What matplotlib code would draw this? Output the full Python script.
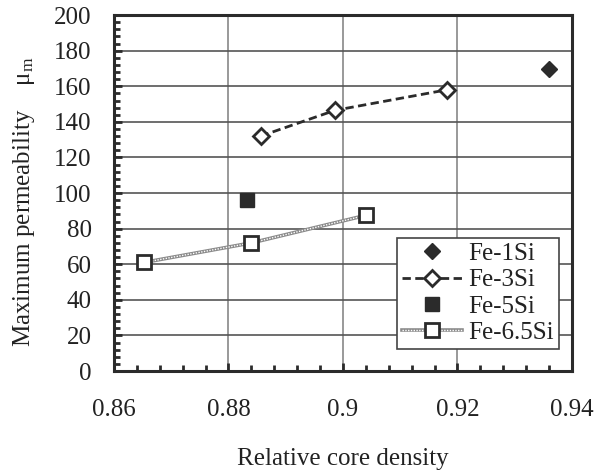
import matplotlib
matplotlib.use("Agg")
import matplotlib.pyplot as plt
from matplotlib.ticker import MultipleLocator
from matplotlib.legend_handler import HandlerTuple

plt.rcParams['font.family'] = 'Liberation Serif'
plt.rcParams['mathtext.fontset'] = 'custom'
plt.rcParams['mathtext.rm'] = 'Liberation Serif'
plt.rcParams['mathtext.it'] = 'Liberation Serif:italic'

# data
fe1_x = [0.936]
fe1_y = [170]
fe3_x = [0.8856, 0.8986, 0.9181]
fe3_y = [132, 146.5, 158]
fe5_x = [0.8833]
fe5_y = [96]
fe65_x = [0.8652, 0.8840, 0.9040]
fe65_y = [61, 72, 87.5]

dark = '#2b2b2b'
fs = 18

fig = plt.figure(figsize=(6.03, 4.73), dpi=100)
ax = fig.add_axes([0.189, 0.2156, 0.7596, 0.7524])

h1, = ax.plot(fe1_x, fe1_y, ls='none', marker='D', ms=8.5, color=dark, label='Fe-1Si')
h3, = ax.plot(fe3_x, fe3_y, ls=(0, (3, 1.6)), lw=2, color=dark, marker='D', ms=8.5,
              mfc='white', mec=dark, mew=2, label='Fe-3Si')
h5, = ax.plot(fe5_x, fe5_y, ls='none', marker='s', ms=10.5, color=dark, label='Fe-5Si')
base, = ax.plot(fe65_x, fe65_y, ls='-', lw=2.6, color='#8a8a8a', zorder=2)
top, = ax.plot(fe65_x, fe65_y, ls=(0, (1, 1)), lw=1.0, color='white', marker='s', ms=10.5,
               mfc='white', mec=dark, mew=2, zorder=3)

ax.set_xlim(0.86, 0.94)
ax.set_ylim(0, 200)
ax.xaxis.set_minor_locator(MultipleLocator(0.004))
ax.yaxis.set_major_locator(MultipleLocator(20))
ax.yaxis.set_minor_locator(MultipleLocator(4))
ax.set_xticks([0.86, 0.88, 0.90, 0.92, 0.94])
ax.set_xticklabels(['0.86', '0.88', '0.9', '0.92', '0.94'])

ax.grid(True, axis='y', color='#555555', lw=1.2)
ax.grid(True, axis='x', color='#888888', lw=1.2)
ax.set_axisbelow(True)

for s in ax.spines.values():
    s.set_linewidth(2.2)
    s.set_color(dark)
ax.tick_params(which='both', direction='in', color=dark, width=2,
               labelsize=fs, top=False, right=False, labelcolor='#222222')
ax.tick_params(which='major', length=6)
ax.tick_params(which='minor', length=4)
ax.tick_params(axis='y', pad=16)
ax.tick_params(axis='x', pad=20)

ax.set_xlabel('Relative core density', fontsize=fs, color='#222222')
ax.xaxis.set_label_coords(0.5, -0.215)
ax.set_ylabel('Maximum permeability    μ$_{\\mathrm{m}}$', fontsize=fs, color='#222222')
ax.yaxis.set_label_coords(-0.168, 0.475)

leg = ax.legend([h1, h3, h5, (base, top)], ['Fe-1Si', 'Fe-3Si', 'Fe-5Si', 'Fe-6.5Si'],
                handler_map={tuple: HandlerTuple(ndivide=1)},
                loc='lower right', bbox_to_anchor=(0.972, 0.062), fontsize=fs,
                fancybox=False, framealpha=1, edgecolor='#444444',
                handlelength=2.4, handletextpad=0.25, labelspacing=0.15, borderpad=0.2,
                borderaxespad=0)
leg.get_frame().set_linewidth(1.2)
for t in leg.get_texts():
    t.set_color('#222222')

fig.savefig('out.png', dpi=100)
